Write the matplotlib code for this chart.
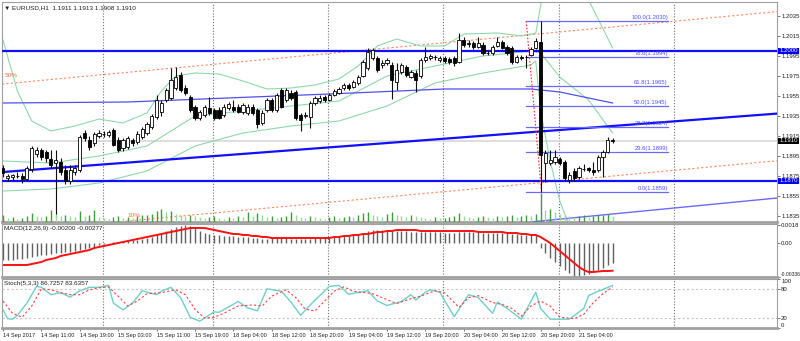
import matplotlib.pyplot as plt
from matplotlib.patches import Rectangle

plt.rcParams['font.family'] = ['Liberation Sans', 'DejaVu Sans']

# EURUSD H1 bars, 14 Sep 03:00 .. 21 Sep 11:00
opens = [1.1883, 1.1873, 1.1874, 1.1875, 1.1875, 1.1872, 1.1882, 1.1897, 1.1901, 1.1899,
         1.1892, 1.1888, 1.1889, 1.1881, 1.1870, 1.1879, 1.1881, 1.1918, 1.1911, 1.1908,
         1.1915, 1.1917, 1.1916, 1.1921, 1.1911, 1.1903, 1.1904, 1.1911, 1.1909, 1.1914,
         1.1918, 1.1924, 1.1934, 1.1939, 1.1951, 1.1953, 1.1963, 1.1976, 1.1963, 1.1954,
         1.1944, 1.1933, 1.1936, 1.1943, 1.1941, 1.1941, 1.1936, 1.1943, 1.1944, 1.1944,
         1.1939, 1.1938, 1.1944, 1.1941, 1.1928, 1.1941, 1.1951, 1.1941, 1.1961, 1.1951,
         1.1958, 1.1959, 1.1936, 1.1935, 1.1934, 1.1948, 1.1950, 1.1954, 1.1951, 1.1956,
         1.1958, 1.1963, 1.1966, 1.1964, 1.1968, 1.1975, 1.1983, 1.1993, 1.1993, 1.1986,
         1.1988, 1.1986, 1.1969, 1.1979, 1.1984, 1.1974, 1.1978, 1.1975, 1.1991, 1.1993,
         1.1994, 1.1991, 1.1993, 1.1992, 1.1993, 1.1989, 1.2011, 1.2008, 1.2008, 1.2004,
         1.2006, 1.1998, 1.1998, 1.2005, 1.2009, 1.2004, 1.2003, 1.1989, 1.1994, 1.1994,
         1.1996, 1.2003, 1.2009, 1.1888, 1.1888, 1.1889, 1.1892, 1.1889, 1.1871, 1.1880,
         1.1874, 1.1882, 1.1883, 1.1881, 1.1881, 1.1894, 1.1899, 1.1911]
highs = [1.1886, 1.1877, 1.1877, 1.1879, 1.1878, 1.1885, 1.1905, 1.1904, 1.1903, 1.1901,
         1.1901, 1.1901, 1.1893, 1.1886, 1.1886, 1.1886, 1.1916, 1.1921, 1.1915, 1.1919,
         1.1921, 1.1920, 1.1921, 1.1923, 1.1914, 1.1913, 1.1915, 1.1913, 1.1920, 1.1924,
         1.1929, 1.1937, 1.1956, 1.1951, 1.1963, 1.1983, 1.1984, 1.1979, 1.1966, 1.1956,
         1.1946, 1.1941, 1.1946, 1.1954, 1.1943, 1.1944, 1.1947, 1.1949, 1.1951, 1.1947,
         1.1948, 1.1947, 1.1947, 1.1943, 1.1941, 1.1953, 1.1953, 1.1958, 1.1963, 1.1963,
         1.1961, 1.1961, 1.1938, 1.1939, 1.1950, 1.1955, 1.1956, 1.1956, 1.1958, 1.1962,
         1.1964, 1.1968, 1.1968, 1.1971, 1.1976, 1.1991, 1.2003, 1.2003, 1.1995, 1.1991,
         1.1993, 1.1989, 1.1988, 1.1988, 1.1986, 1.1981, 1.1981, 1.1993, 1.2004, 1.1997,
         1.1996, 1.1995, 1.1995, 1.1994, 1.1995, 1.2018, 1.2014, 1.2011, 1.2010, 1.2014,
         1.2009, 1.2001, 1.2006, 1.2014, 1.2011, 1.2006, 1.2005, 1.1996, 1.1996, 1.1996,
         1.2004, 1.2013, 1.2030, 1.1901, 1.1901, 1.1901, 1.1894, 1.1891, 1.1879, 1.1883,
         1.1885, 1.1887, 1.1884, 1.1889, 1.1896, 1.1901, 1.1914, 1.1913]
lows = [1.1874, 1.1870, 1.1871, 1.1873, 1.1868, 1.1870, 1.1879, 1.1894, 1.1891, 1.1889,
        1.1883, 1.1833, 1.1876, 1.1867, 1.1867, 1.1876, 1.1879, 1.1910, 1.1901, 1.1905,
        1.1913, 1.1914, 1.1914, 1.1905, 1.1899, 1.1900, 1.1902, 1.1905, 1.1907, 1.1912,
        1.1916, 1.1922, 1.1932, 1.1935, 1.1949, 1.1951, 1.1961, 1.1959, 1.1956, 1.1939,
        1.1931, 1.1931, 1.1934, 1.1936, 1.1931, 1.1932, 1.1934, 1.1941, 1.1939, 1.1938,
        1.1937, 1.1936, 1.1936, 1.1923, 1.1926, 1.1939, 1.1939, 1.1939, 1.1943, 1.1949,
        1.1951, 1.1931, 1.1920, 1.1933, 1.1923, 1.1946, 1.1948, 1.1949, 1.1950, 1.1955,
        1.1957, 1.1961, 1.1961, 1.1963, 1.1966, 1.1974, 1.1981, 1.1991, 1.1979, 1.1983,
        1.1986, 1.1952, 1.1961, 1.1977, 1.1974, 1.1973, 1.1959, 1.1973, 1.1989, 1.1991,
        1.1991, 1.1989, 1.1988, 1.1987, 1.1985, 1.1988, 1.2004, 1.2004, 1.2002, 1.2003,
        1.1996, 1.1996, 1.1996, 1.2004, 1.2002, 1.1996, 1.1987, 1.1988, 1.1991, 1.1983,
        1.1995, 1.2002, 1.1859, 1.1869, 1.1886, 1.1887, 1.1886, 1.1871, 1.1868, 1.1870,
        1.1872, 1.1880, 1.1879, 1.1876, 1.1879, 1.1874, 1.1898, 1.1908]
closes = [1.1878, 1.1875, 1.1876, 1.1875, 1.1872, 1.1883, 1.1903, 1.1901, 1.1894, 1.1893,
          1.1886, 1.1891, 1.1879, 1.1870, 1.1881, 1.1883, 1.1914, 1.1913, 1.1904, 1.1917,
          1.1918, 1.1917, 1.1919, 1.1906, 1.1901, 1.1911, 1.1913, 1.1908, 1.1917, 1.1922,
          1.1927, 1.1935, 1.1951, 1.1948, 1.1961, 1.1971, 1.1974, 1.1961, 1.1958, 1.1941,
          1.1933, 1.1939, 1.1944, 1.1938, 1.1933, 1.1933, 1.1944, 1.1947, 1.1941, 1.1939,
          1.1946, 1.1944, 1.1938, 1.1927, 1.1938, 1.1951, 1.1941, 1.1956, 1.1944, 1.1961,
          1.1953, 1.1933, 1.1931, 1.1936, 1.1948, 1.1953, 1.1953, 1.1951, 1.1956, 1.1960,
          1.1962, 1.1966, 1.1963, 1.1969, 1.1974, 1.1989, 1.1999, 1.2001, 1.1981, 1.1988,
          1.1991, 1.1971, 1.1981, 1.1986, 1.1976, 1.1979, 1.1971, 1.1991, 1.1994, 1.1995,
          1.1994, 1.1993, 1.1990, 1.1989, 1.1988, 1.2011, 1.2006, 1.2007, 1.2004, 1.2008,
          1.1998, 1.1998, 1.2004, 1.2009, 1.2003, 1.1998, 1.1989, 1.1994, 1.1993, 1.1994,
          1.2002, 1.2010, 1.1896, 1.1898, 1.1891, 1.1894, 1.1888, 1.1873, 1.1876, 1.1873,
          1.1883, 1.1882, 1.1881, 1.1879, 1.1894, 1.1899, 1.1911, 1.1910]
volumes = [3500, 2000, 2500, 1500, 2000, 3000, 4500, 3000, 2500, 3000,
           6000, 4000, 3000, 3500, 3000, 2500, 5500, 3000, 3500, 6000,
           2500, 2000, 1500, 2500, 3000, 2000, 2500, 2000, 3000, 3500,
           3500, 4000, 5500, 6500, 5000, 5500, 4000, 3500, 3000, 3500,
           3000, 2500, 2000, 2500, 3000, 2000, 1500, 2500, 2000, 3000,
           2500, 5000, 3000, 4500, 3500, 2500, 3000, 2000, 2500, 3000,
           5000, 3500, 2500, 2000, 3000, 2500, 2000, 1500, 2500, 3000,
           2000, 2500, 3000, 2500, 3500, 4500, 5000, 3500, 3000, 2500,
           4000, 5000, 3500, 3000, 2500, 3500, 3000, 2500, 2000, 1500,
           2500, 2000, 2000, 2500, 3000, 4500, 3000, 2500, 2000, 2500,
           3000, 2500, 2000, 3000, 2500, 3000, 3500, 2500, 3000, 3500,
           3000, 4000, 14500, 6000, 6500, 5000, 4000, 3500, 3000, 2500,
           3000, 3500, 2500, 3000, 3500, 3500, 4000, 3000]

# time axis labels every 8 bars
time_labels = ['14 Sep 2017', '14 Sep 11:00', '14 Sep 19:00', '15 Sep 03:00',
               '15 Sep 11:00', '15 Sep 19:00', '18 Sep 04:00', '18 Sep 12:00',
               '18 Sep 20:00', '19 Sep 04:00', '19 Sep 12:00', '19 Sep 20:00',
               '20 Sep 04:00', '20 Sep 12:00', '20 Sep 20:00', '21 Sep 04:00']
grid_bars = [20.75, 43.75, 67.75, 91.75, 115.75, 139.75]

# Bollinger bands (20) sampled at bar index
bb_idx_up = [0, 3, 6, 10, 15, 20, 25, 30, 33, 36, 40, 45, 50, 55, 60, 65, 70, 74, 78,
             82, 87, 92, 96, 103, 108, 111, 112, 113]
bb_up = [1.2011, 1.1960, 1.1930, 1.1920, 1.1925, 1.1932, 1.1928, 1.1938, 1.1960, 1.1975,
         1.1978, 1.1977, 1.1970, 1.1962, 1.1963, 1.1966, 1.1972, 1.1985, 1.2005, 1.2012,
         1.2005, 1.2005, 1.2017, 1.2018, 1.2015, 1.2018, 1.2045, 1.2080]
bb_idx_up2 = [121, 122, 127]
bb_up2 = [1.2060, 1.2051, 1.2003]
bb_idx_mid = [0, 10, 20, 30, 40, 50, 60, 70, 80, 90, 100, 110, 112, 116, 122, 127]
bb_mid = [1.1890, 1.1888, 1.1895, 1.1905, 1.1935, 1.1940, 1.1945, 1.1950, 1.1975, 1.1985,
          1.1995, 1.2000, 1.1998, 1.1974, 1.1951, 1.1918]
bb_idx_lo = [0, 10, 20, 30, 40, 50, 60, 70, 80, 90, 100, 110, 111, 112, 114, 116, 118]
bb_lo = [1.1860, 1.1862, 1.1868, 1.1880, 1.1905, 1.1918, 1.1925, 1.1930, 1.1945, 1.1968,
         1.1978, 1.1986, 1.1990, 1.1940, 1.1890, 1.1850, 1.1825]

# long moving average
ma_idx = [0, 26, 52, 68, 92, 110, 116, 127]
ma_val = [1.1948, 1.1949, 1.1954, 1.1957, 1.1962, 1.1962, 1.1959, 1.1948]

# horizontal levels and trend lines
levels = [1.2000, 1.1870]
trend_main = [(0, 1.1879), (127, 1.1925)]
trend_low = [(112, 1.1830), (127, 1.1837)]
chan_50 = [(0, 1.1967), (127, 1.2024)]
chan_10 = [(26, 1.1830), (127, 1.1875)]

# fibonacci retracement of the 20 Sep drop
fib_pct = [100.0, 78.6, 61.8, 50.0, 38.2, 23.6, 0.0]
fib_price = [1.2030, 1.1994, 1.1965, 1.1945, 1.1924, 1.1899, 1.1859]
fib_from, fib_to = 109, 138.5
fib_base = [(109, 1.2030), (112.2, 1.1859)]

# MACD(12,26,9)
macd_main = [-0.0017, -0.0017, -0.0017, -0.0016, -0.0016, -0.0015, -0.0014, -0.0013, -0.0012, -0.0012,
             -0.0011, -0.0010, -0.0010, -0.0009, -0.0009, -0.0008, -0.0007, -0.0006, -0.0005, -0.0004,
             -0.0002, -0.0001, 0.00005, 0.0001, 0.0001, 0.0002, 0.0002, 0.0003, 0.0003, 0.0004,
             0.0005, 0.0006, 0.0008, 0.0010, 0.0012, 0.0014, 0.0016, 0.0017, 0.0018, 0.0017,
             0.0015, 0.0012, 0.0010, 0.0009, 0.0008, 0.0008, 0.0007, 0.0007, 0.0007, 0.0006,
             0.0006, 0.0006, 0.0005, 0.0005, 0.0004, 0.0004, 0.0005, 0.0005, 0.0005, 0.0005,
             0.0004, 0.0004, 0.0004, 0.0004, 0.0004, 0.0005, 0.0005, 0.0005, 0.0005, 0.0006,
             0.0006, 0.0007, 0.0007, 0.0008, 0.0009, 0.0010, 0.0012, 0.0013, 0.0013, 0.0013,
             0.0013, 0.0012, 0.0012, 0.0012, 0.0012, 0.0011, 0.0011, 0.0011, 0.0011, 0.0011,
             0.0011, 0.0011, 0.0010, 0.0010, 0.0010, 0.0011, 0.0011, 0.0011, 0.0011, 0.0011,
             0.0010, 0.0010, 0.0010, 0.0010, 0.0010, 0.0010, 0.0009, 0.0009, 0.0008, 0.0008,
             0.0008, 0.0008, -0.0005, -0.0010, -0.0015, -0.0019, -0.0023, -0.0027, -0.0030, -0.00336,
             -0.0033, -0.0032, -0.0031, -0.0029, -0.0027, -0.0025, -0.0022, -0.00200]
macd_signal = [-0.0022, -0.0022, -0.0022, -0.0022, -0.0022, -0.0022, -0.0021, -0.0020, -0.0019, -0.0017,
               -0.0016, -0.0015, -0.0013, -0.0012, -0.0011, -0.0010, -0.0009, -0.0008, -0.0007, -0.0005,
               -0.0004, -0.0003, -0.0002, -0.0001, 0.0000, 0.0001, 0.0002, 0.0003, 0.0004, 0.0005,
               0.0006, 0.0007, 0.0008, 0.0009, 0.0010, 0.0011, 0.0012, 0.0013, 0.0014, 0.0015,
               0.0015, 0.0015, 0.0015, 0.0014, 0.0013, 0.0012, 0.0011, 0.0010, 0.0009, 0.0009,
               0.0008, 0.0008, 0.0007, 0.0007, 0.0006, 0.0006, 0.0005, 0.0005, 0.0005, 0.0005,
               0.0005, 0.0005, 0.0005, 0.0005, 0.0005, 0.0005, 0.0005, 0.0005, 0.0005, 0.0006,
               0.0006, 0.0007, 0.0007, 0.0008, 0.0008, 0.0009, 0.0009, 0.0010, 0.0011, 0.0011,
               0.0012, 0.0012, 0.0013, 0.0013, 0.0013, 0.0013, 0.0013, 0.0012, 0.0012, 0.0012,
               0.0012, 0.0012, 0.0012, 0.0012, 0.0012, 0.0012, 0.0012, 0.0012, 0.0012, 0.0011,
               0.0011, 0.0011, 0.0011, 0.0011, 0.0011, 0.0010, 0.0010, 0.0010, 0.0009, 0.0009,
               0.0008, 0.0008, 0.0006, 0.0003, 0.0000, -0.0004, -0.0008, -0.0012, -0.0016, -0.0020,
               -0.0024, -0.0027, -0.0029, -0.0029, -0.00285, -0.0028, -0.0028, -0.00277]

# Stochastic(5,3,3), sampled at turning bars
st_idx = [0, 1, 2, 3, 5, 7, 8, 10, 12, 14, 16, 18, 20, 22, 23, 25, 27, 29, 32, 33, 35, 37,
          39, 41, 44, 45, 49, 51, 53, 55, 58, 60, 62, 64, 68, 70, 72, 76, 78, 80, 83, 85,
          86, 88, 89, 91, 94, 97, 99, 102, 103, 105, 108, 111, 112, 114, 118, 121, 122,
          124, 127]
st_main = [37, 19, 18, 26, 51, 85, 83, 68, 72, 63, 76, 83, 83, 87, 51, 37, 51, 76, 68, 75,
           83, 62, 22, 14, 33, 32, 54, 41, 35, 80, 75, 53, 26, 47, 85, 87, 69, 76, 55, 46,
           54, 68, 57, 73, 78, 73, 23, 68, 62, 30, 53, 40, 18, 73, 40, 18, 18, 40, 66, 75,
           86.7257]
sg_idx = [0, 2, 4, 6, 8, 10, 12, 14, 16, 18, 20, 22, 24, 26, 28, 30, 33, 36, 38, 40, 42,
          44, 46, 49, 52, 54, 56, 59, 61, 63, 65, 69, 71, 73, 77, 79, 82, 85, 87, 90, 92,
          95, 97, 99, 102, 104, 106, 108, 110, 112, 114, 116, 119, 121, 123, 125, 127]
st_signal = [55, 30, 22, 45, 80, 78, 72, 68, 68, 78, 82, 84, 65, 45, 55, 70, 72, 78, 68,
             38, 20, 22, 30, 45, 47, 45, 65, 78, 62, 38, 35, 75, 84, 75, 70, 62, 50, 60,
             65, 76, 72, 42, 62, 66, 52, 48, 40, 24, 45, 55, 45, 22, 19, 28, 52, 70, 83.6357]

W, H = 800, 341
fig = plt.figure(figsize=(W / 100, H / 100), dpi=100)


def panel(x0, y0, x1, y1):
    return fig.add_axes([x0 / W, 1 - y1 / H, (x1 - x0) / W, (y1 - y0) / H])


ax = panel(2, 2, 777, 222)
axm = panel(2, 224, 777, 277)
axs = panel(2, 279, 777, 328)

n = len(closes)
bars = list(range(n))
xlim = (-0.2, 161.25)
frame = '#a0a0a0'
small = 4.6
ylab = 4.3

for a in (ax, axm, axs):
    a.set_xlim(*xlim)
    a.yaxis.tick_right()
    for s in a.spines.values():
        s.set_color(frame)
        s.set_linewidth(0.8)
    a.spines['bottom'].set_linewidth(2)
    a.tick_params(axis='y', length=2.2, width=0.6, color='#606060', pad=0.8,
                  labelsize=ylab, labelcolor='#202020')
    a.tick_params(axis='x', bottom=False, labelbottom=False)
    for g in grid_bars:
        a.axvline(g, color='#707070', lw=0.8, ls=(0, (1, 1.6)), zorder=1)

# main price window
ax.set_ylim(1.1829, 1.2049)
price_ticks = [1.1835, 1.1855, 1.1875, 1.1895, 1.1915, 1.1935, 1.1955, 1.1975, 1.1995,
               1.2015, 1.2035]
ax.set_yticks(price_ticks)
ax.set_yticklabels([f'{v:.4f}' for v in price_ticks])

# tick volumes along the bottom of the price window
axv = panel(2, 2, 777, 222)
axv.set_ylim(0, 110000)
axv.set_xlim(*xlim)
axv.axis('off')
vcol = ['#9fd49f' if i > 0 and volumes[i] < volumes[i - 1] else '#3a9e3a' for i in bars]
axv.vlines(bars, 0, volumes, colors=vcol, lw=1)

ax.axhline(closes[-1], color='#d8d8d8', lw=1.2, zorder=1)

for lv in levels:
    ax.axhline(lv, color='#1010ff', lw=1.6, zorder=3)
ax.axline(*trend_main, color='#1010ff', lw=1.6, zorder=3)
ax.axline(*trend_low, color='#6a6aff', lw=1.0, zorder=3)
ax.axline(*chan_50, color='#ff8a60', lw=0.8, ls=(0, (2, 2)), zorder=2)
ax.axline(*chan_10, color='#ff8a60', lw=0.8, ls=(0, (2, 2)), zorder=2)
ax.text(0.3, chan_50[0][1] + 0.0006, '50%', color='#ff6a40', fontsize=small, va='bottom')
ax.text(chan_10[0][0], chan_10[0][1] + 0.0003, '10%', color='#ff6a40', fontsize=small,
        va='bottom')

bb_col = '#8fd8aa'
ax.plot(bb_idx_up, bb_up, color=bb_col, lw=0.8, zorder=2)
ax.plot(bb_idx_up2, bb_up2, color=bb_col, lw=0.8, zorder=2)
ax.plot(bb_idx_mid, bb_mid, color=bb_col, lw=0.8, zorder=2)
ax.plot(bb_idx_lo, bb_lo, color=bb_col, lw=0.8, zorder=2)
ax.plot(ma_idx, ma_val, color='#5050f0', lw=0.9, zorder=2)

for pct, pr in zip(fib_pct, fib_price):
    ax.plot([fib_from, fib_to], [pr, pr], color='#6a6aff', lw=0.9, zorder=3)
    ax.text(fib_to, pr + 0.0001, f'{pct:.1f}({pr:.4f})', color='#5050ff',
            fontsize=4.2, ha='right', va='bottom', zorder=4)
ax.plot(*zip(*fib_base), color='#ff3030', lw=0.8, ls=(0, (1.5, 1.5)), zorder=3)

# candles
for i in bars:
    o, h, l, c = opens[i], highs[i], lows[i], closes[i]
    ax.vlines(i, l, h, color='#101010', lw=0.8, zorder=5)
    face = 'white' if c >= o else 'black'
    ax.add_patch(Rectangle((i - 0.32, min(o, c)), 0.64, max(abs(c - o), 0.00002),
                           facecolor=face, edgecolor='black', lw=0.6, zorder=6))

ax.text(0.002, 0.985, '▼ EURUSD,H1  ' + ' '.join(f'{v:.4f}' for v in
        (opens[-1], highs[-1], lows[-1], closes[-1])),
        transform=ax.transAxes, fontsize=small, va='top', color='#202020')

tag = dict(boxstyle='square,pad=0.15', lw=0)
for lv, bg in ((levels[0], '#0000ff'), (levels[1], '#0000ff'), (closes[-1], 'black')):
    ax.annotate(f'{lv:.4f}', (1.0, lv), xycoords=('axes fraction', 'data'),
                xytext=(1.6, 0), textcoords='offset points', fontsize=ylab,
                color='white', va='center', ha='left', annotation_clip=False,
                bbox=dict(tag, fc=bg), zorder=10)

# MACD window
axm.set_ylim(-0.0034, 0.0019)
axm.vlines(bars, 0, macd_main, colors='#606060', lw=1)
axm.plot(bars, macd_signal, color='#ff1010', lw=1.4)
axm.set_yticks([0.0018, 0.0, -0.00336])
axm.set_yticklabels(['0.0018', '0.00', '-0.00336'])
low_lab = axm.get_yticklabels()[2]
low_lab.set_va('bottom')
low_lab.set_fontsize(3.6)
axm.text(0.002, 0.96, f'MACD(12,26,9) {macd_main[-1]:.5f} {macd_signal[-1]:.5f}',
         transform=axm.transAxes, fontsize=small, va='top', color='#202020')

# Stochastic window
axs.set_ylim(0, 100)
for lv in (80, 20):
    axs.axhline(lv, color='#c8c8c8', lw=0.8, ls=(0, (2, 2)))
axs.plot(st_idx, st_main, color='#6fd0c8', lw=1.0)
axs.plot(sg_idx, st_signal, color='#ff4040', lw=0.8, ls=(0, (2, 2)))
axs.set_yticks([100, 80, 20, 0])
axs.set_yticklabels(['100', '80', '20', '0'])
axs.get_yticklabels()[0].set_va('top')
axs.get_yticklabels()[3].set_va('bottom')
axs.text(0.002, 0.96, f'Stoch(5,3,3) {st_main[-1]:.4f} {st_signal[-1]:.4f}',
         transform=axs.transAxes, fontsize=small, va='top', color='#202020')

axs.set_xticks(range(0, 8 * len(time_labels), 8))
axs.set_xticklabels(time_labels, ha='left')
axs.tick_params(axis='x', bottom=True, labelbottom=True, length=2, width=0.6,
                color='#606060', pad=1.5, labelsize=4.1, labelcolor='#202020')

fig.savefig('out.png', dpi=100)
